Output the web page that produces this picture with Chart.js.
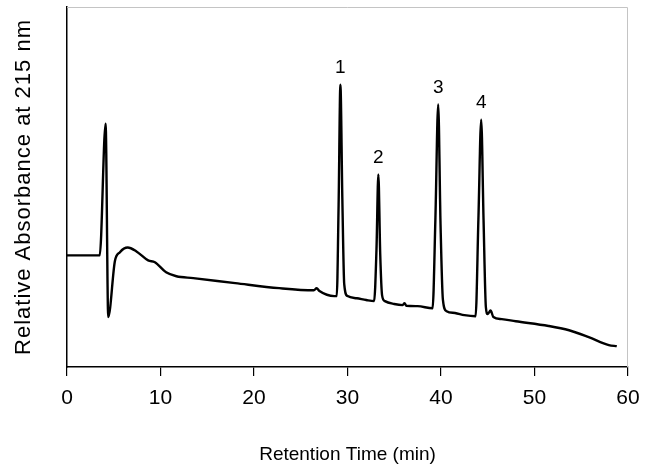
<!DOCTYPE html>
<html>
<head>
<meta charset="utf-8">
<title>Chromatogram</title>
<script src="https://cdn.jsdelivr.net/npm/chart.js@4.4.1/dist/chart.umd.min.js"></script>
<style>
  html, body { margin: 0; padding: 0; background: #ffffff; }
  #wrap { width: 647px; height: 472px; }
</style>
</head>
<body>
<div id="wrap"><canvas id="chromChart" width="647" height="472"></canvas></div>
<script>
// retention time (min) and relative absorbance
var retentionTimes = [
  0, 3.5, 4.13, 4.41, 5.12, 5.66, 6.5, 7.43, 8.68, 9.4, 10.6, 11.7, 13.5, 18, 22.7,
  26.4, 26.7, 27.0, 28.6, 28.85, 29.05, 29.24, 29.45, 29.65, 30.0, 31, 32, 32.85,
  33.1, 33.3, 33.5, 33.7, 34.0, 35, 35.9, 36.1, 36.3, 37.5, 39.1,
  39.4, 39.7, 39.95, 40.2, 40.6, 41.5, 42.5, 43.7,
  44.0, 44.3, 44.55, 44.8, 45.0, 45.3, 45.6, 46.5, 48, 51.5, 53.7, 55.8, 57.95, 58.8
];
var absorbance = [
  31.0, 31.0, 67.6, 13.9, 29.4, 31.9, 33.2, 32.1, 29.6, 29.1, 26.3, 25.2, 24.7, 23.3, 21.9,
  21.3, 21.9, 21.1, 19.7, 19.7, 45.2, 78.4, 46.5, 23.0, 19.7, 19.1, 18.6, 18.3,
  32.7, 53.5, 31.3, 19.9, 18.3, 17.5, 17.2, 17.7, 17.0, 16.9, 16.3,
  41.0, 72.9, 39.6, 18.8, 15.5, 15.0, 14.4, 14.1,
  41.0, 68.7, 41.0, 16.6, 14.7, 15.7, 13.9, 13.3, 12.7, 11.4, 10.2, 8.3, 6.1, 5.8
];
var xTicks = [0, 10, 20, 30, 40, 50, 60];
var yTitle = 'Relative Absorbance at 215 nm';

// peak numbers and where they sit
var peakNames = ['1', '2', '3', '4'];
var peakTimes = [29.24, 33.3, 39.7, 44.3];

var points = retentionTimes.map(function(t, i) {
  return { x: t, y: absorbance[i] };
});

// peak numbers, the spaced-out y title and a light frame on top/right
var peakLabels = {
  id: 'peakLabels',
  afterDatasetsDraw: function(chart) {
    var ctx = chart.ctx;
    var xs = chart.scales.x, ys = chart.scales.y;
    var a = chart.chartArea;
    ctx.save();
    ctx.fillStyle = '#000';
    ctx.font = '19px "Liberation Sans", Arial, sans-serif';
    ctx.textAlign = 'center';
    ctx.textBaseline = 'middle';
    peakNames.forEach(function(name, i) {
      var idx = retentionTimes.indexOf(peakTimes[i]);
      var px = xs.getPixelForValue(peakTimes[i]);
      var py = ys.getPixelForValue(absorbance[idx]);
      ctx.fillText(name, px, py - 17);
    });

    // y title (letter spaced like the original print)
    ctx.translate(29.5, (a.top + a.bottom) / 2);
    ctx.rotate(-Math.PI / 2);
    ctx.font = '22px "Liberation Sans", Arial, sans-serif';
    ctx.letterSpacing = '1px';
    ctx.textBaseline = 'alphabetic';
    ctx.fillText(yTitle, 0, 0);
    ctx.letterSpacing = '0px';
    ctx.restore();

    // frame
    ctx.save();
    ctx.strokeStyle = '#c4c4c4';
    ctx.lineWidth = 1;
    ctx.beginPath();
    ctx.moveTo(a.left, a.top + 0.5);
    ctx.lineTo(a.right - 0.5, a.top + 0.5);
    ctx.lineTo(a.right - 0.5, a.bottom);
    ctx.stroke();
    ctx.restore();
  }
};

var ctx = document.getElementById('chromChart').getContext('2d');
var chromChart = new Chart(ctx, {
  type: 'line',
  data: {
    datasets: [{
      label: 'A215',
      data: points,
      borderColor: '#000000',
      borderWidth: 2.4,
      pointRadius: 0,
      fill: false,
      cubicInterpolationMode: 'monotone'
    }]
  },
  options: {
    responsive: false,
    animation: false,
    devicePixelRatio: 1,
    layout: {
      padding: { top: 7, right: 19, left: 0, bottom: 0 }
    },
    plugins: {
      legend: { display: false },
      tooltip: { enabled: false }
    },
    scales: {
      x: {
        type: 'linear',
        min: 0,
        max: 60,
        afterBuildTicks: function(scale) {
          scale.ticks = xTicks.map(function(v) { return { value: v }; });
        },
        afterFit: function(scale) {
          scale.height = 105;
          scale.paddingRight = 0;
        },
        ticks: {
          color: '#000',
          padding: 10,
          maxRotation: 0,
          font: { family: '"Liberation Sans", Arial, sans-serif', size: 21 }
        },
        grid: {
          drawOnChartArea: false,
          tickLength: 9,
          color: '#000',
          lineWidth: 1.2
        },
        border: { color: '#000', width: 1.5 },
        title: {
          display: true,
          text: 'Retention Time (min)',
          color: '#000',
          padding: { top: 0, bottom: 6 },
          font: { family: '"Liberation Sans", Arial, sans-serif', size: 19 }
        }
      },
      y: {
        min: 0,
        max: 100,
        afterFit: function(scale) {
          scale.width = 67;
          scale.paddingTop = 0;
          scale.paddingBottom = 0;
        },
        ticks: { display: false },
        grid: { display: false },
        border: { color: '#000', width: 1.5 },
        title: { display: false }
      }
    }
  },
  plugins: [peakLabels]
});
</script>
</body>
</html>
